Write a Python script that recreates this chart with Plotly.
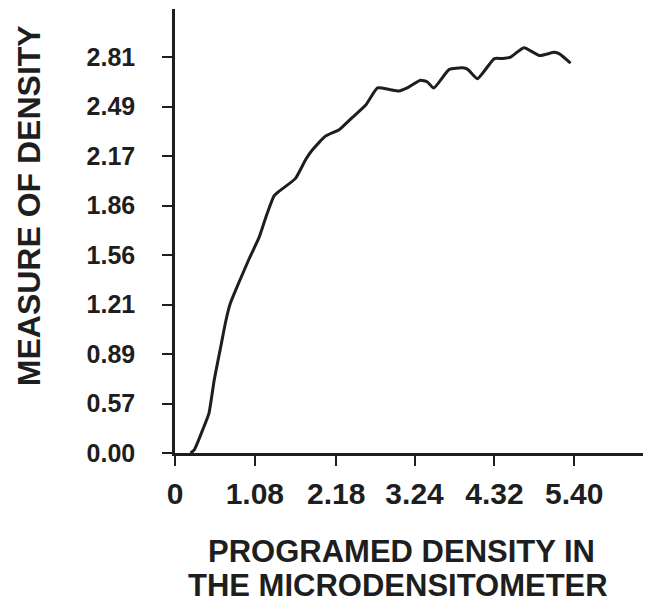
import numpy as np
import plotly.graph_objects as go

# ---- data ----
x_tick_vals = [0, 1.08, 2.18, 3.24, 4.32, 5.40]
x_tick_labels = ["0", "1.08", "2.18", "3.24", "4.32", "5.40"]

y_tick_vals = [0.00, 0.57, 0.89, 1.21, 1.56, 1.86, 2.17, 2.49, 2.81]
y_tick_labels = ["0.00", "0.57", "0.89", "1.21", "1.56", "1.86", "2.17", "2.49", "2.81"]

programmed_density = [0.21, 0.26, 0.39, 0.46, 0.53, 0.62, 0.69, 0.75, 0.86, 1.00,
                      1.14, 1.23, 1.34, 1.41, 1.63, 1.77, 1.86, 2.04, 2.22, 2.40,
                      2.58, 2.74, 2.90, 3.03, 3.14, 3.32, 3.41, 3.50, 3.71, 3.89,
                      3.96, 4.09, 4.32, 4.43, 4.54, 4.72, 4.93, 5.13, 5.20, 5.35]
measured_density = [0.00, 0.035, 0.30, 0.46, 0.72, 0.94, 1.11, 1.22, 1.36, 1.53,
                    1.67, 1.79, 1.92, 1.95, 2.03, 2.15, 2.21, 2.30, 2.34, 2.42,
                    2.50, 2.61, 2.60, 2.59, 2.61, 2.66, 2.65, 2.61, 2.73, 2.74,
                    2.73, 2.67, 2.80, 2.80, 2.81, 2.87, 2.82, 2.84, 2.83, 2.77]

# The printed y scale places its labelled values at equal spacing:
# map measured values onto that scale piecewise-linearly.
y_levels = np.arange(len(y_tick_vals), dtype=float)


def to_scale(v):
    v = np.asarray(v, dtype=float)
    out = np.interp(v, y_tick_vals, y_levels)
    top_slope = (y_levels[-1] - y_levels[-2]) / (y_tick_vals[-1] - y_tick_vals[-2])
    above = v > y_tick_vals[-1]
    out[above] = y_levels[-1] + (v[above] - y_tick_vals[-1]) * top_slope
    return out


ink = "#1e1e1e"
font_family = "Arial, Liberation Sans, sans-serif"

fig = go.Figure()
fig.add_trace(go.Scatter(
    x=programmed_density,
    y=to_scale(measured_density),
    mode="lines",
    line=dict(color=ink, width=3, shape="spline", smoothing=0.5),
    showlegend=False,
    hoverinfo="skip",
))

fig.update_layout(
    width=646, height=605,
    margin=dict(l=175, r=3, t=9, b=152),
    paper_bgcolor="white", plot_bgcolor="white",
    showlegend=False,
    xaxis=dict(
        range=[0, 6.33],
        tickvals=x_tick_vals, ticktext=x_tick_labels,
        ticks="outside", ticklen=10, tickwidth=2, tickcolor=ink,
        showline=True, linecolor=ink, linewidth=2.5,
        showgrid=False, zeroline=False,
        tickfont=dict(family=font_family, size=30, color=ink, weight="bold"),
        ticklabelstandoff=2,
    ),
    yaxis=dict(
        range=[0, 8.97],
        tickvals=list(y_levels), ticktext=y_tick_labels,
        ticks="outside", ticklen=10, tickwidth=2, tickcolor=ink,
        showline=True, linecolor=ink, linewidth=2.5,
        showgrid=False, zeroline=False,
        tickfont=dict(family=font_family, size=25, color=ink, weight="bold"),
        ticklabelstandoff=22,
    ),
    annotations=[
        dict(text="MEASURE OF DENSITY", textangle=-90,
             xref="paper", yref="paper", x=-0.312, y=0.558,
             xanchor="center", yanchor="middle", showarrow=False,
             font=dict(family=font_family, size=32, color=ink, weight="bold")),
        dict(text="PROGRAMED DENSITY IN",
             xref="paper", yref="paper", x=(401.5 - 175) / 468, y=-(551 - 453) / 444,
             xanchor="center", yanchor="middle", showarrow=False,
             font=dict(family=font_family, size=31, color=ink, weight="bold")),
        dict(text="THE MICRODENSITOMETER",
             xref="paper", yref="paper", x=(397.5 - 175) / 468, y=-(585 - 453) / 444,
             xanchor="center", yanchor="middle", showarrow=False,
             font=dict(family=font_family, size=31, color=ink, weight="bold")),
    ],
)

fig.write_html(
    "out.html",
    config={"displayModeBar": False},
    post_script="document.body.style.margin='0';document.body.style.overflow='hidden';",
)
